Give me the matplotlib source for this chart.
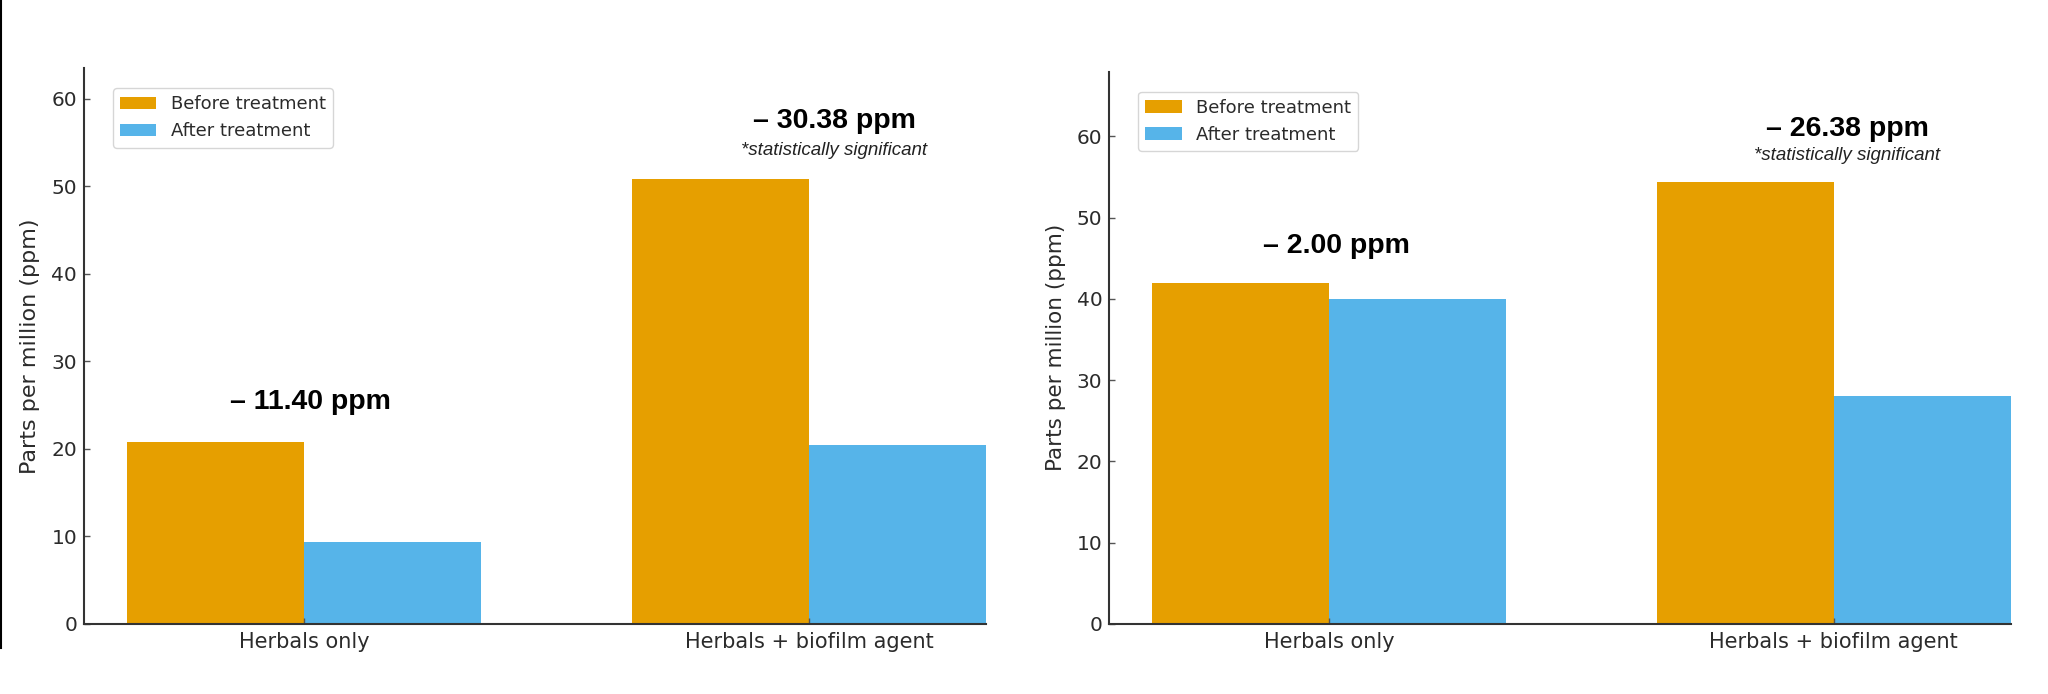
import numpy as np
import matplotlib
matplotlib.use('Agg')
import matplotlib.pyplot as plt
from matplotlib.lines import Line2D

# data
categories = ['Herbals only', 'Herbals + biofilm agent']

before_left = [20.8, 50.8]
after_left = [9.4, 20.42]
change_left = ['– 11.40 ppm', '– 30.38 ppm']
signif_left = [False, True]

before_right = [42.0, 54.38]
after_right = [40.0, 28.0]
change_right = ['– 2.00 ppm', '– 26.38 ppm']
signif_right = [False, True]

series_labels = ['Before treatment', 'After treatment']
colors = ['#E69F00', '#56B4E9']
ylabel = 'Parts per million (ppm)'

text_color = '#2b2b2b'
plt.rcParams['font.family'] = ['DejaVu Sans']

fig = plt.figure(figsize=(20.48, 6.94), dpi=100)

ax1 = fig.add_axes([0.0411, 0.1009, 0.4403, 0.801])
ax2 = fig.add_axes([0.5417, 0.1009, 0.4400, 0.7958])


def draw_panel(ax, before, after, changes, signif, dx, ylabel_size):
    x = np.arange(len(categories))
    w = 0.35
    ax.bar(x - w / 2, before, w, color=colors[0], label=series_labels[0])
    ax.bar(x + w / 2, after, w, color=colors[1], label=series_labels[1])

    ax.set_xlim(-0.435, 1.35)
    ax.set_ylim(0, max(before) * 1.25)

    ax.set_xticks(x)
    ax.set_xticklabels(categories)
    ax.set_ylabel(ylabel, fontsize=ylabel_size, color=text_color, labelpad=8)

    for side in ['top', 'right']:
        ax.spines[side].set_visible(False)
    for side in ['left', 'bottom']:
        ax.spines[side].set_linewidth(1.5)
        ax.spines[side].set_color('#333333')

    ax.tick_params(axis='y', direction='in', length=4, width=1, colors='#555555',
                   labelcolor=text_color, labelsize=14.5, pad=5)
    ax.tick_params(axis='x', direction='in', length=4, width=1, colors='#555555',
                   labelcolor=text_color, labelsize=15, pad=5.5)

    # change labels above each group
    for i in range(len(categories)):
        if signif[i]:
            ax.text(x[i] + dx[i], before[i] + 6.6, changes[i], ha='center', va='center',
                    fontsize=20.5, fontweight='bold', family='Liberation Sans', color='black')
            ax.text(x[i] + dx[i], before[i] + 3.3, '*statistically significant', ha='center',
                    va='center', fontsize=13.5, fontstyle='italic', family='Liberation Sans',
                    color='#222222')
        else:
            ax.text(x[i] + dx[i], before[i] + 4.5, changes[i], ha='center', va='center',
                    fontsize=20.5, fontweight='bold', family='Liberation Sans', color='black')

    leg = ax.legend(loc='upper left', bbox_to_anchor=(0.032, 0.964), borderaxespad=0,
                    fontsize=13, frameon=True)
    for t in leg.get_texts():
        t.set_color(text_color)


draw_panel(ax1, before_left, after_left, change_left, signif_left, [0.012, 0.05], 16)
draw_panel(ax2, before_right, after_right, change_right, signif_right, [0.015, 0.027], 15.5)

# thin black border line at far left of the image
fig.add_artist(Line2D([0.0007, 0.0007], [1.0, 1 - 648 / 694], transform=fig.transFigure,
                      color='black', linewidth=1.5))

fig.savefig('out.png', dpi=100)
